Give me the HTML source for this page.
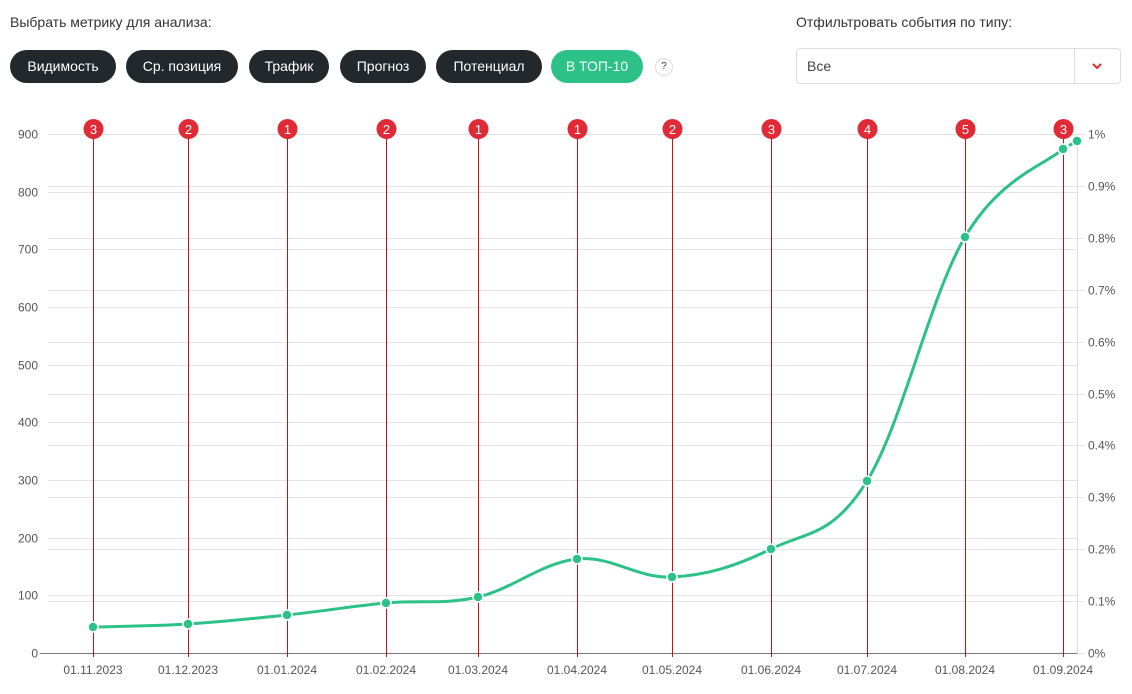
<!DOCTYPE html>
<html><head><meta charset="utf-8"><style>
body{margin:0;width:1132px;height:694px;background:#fff;font-family:"Liberation Sans",sans-serif;overflow:hidden;position:relative}
.lbl{position:absolute;font-size:14px;color:#333}
.btn{position:absolute;top:50px;height:33px;line-height:33px;border-radius:17px;background:#22282c;color:#fff;font-size:14px;text-align:center}
</style></head><body>
<div class="lbl" style="left:10px;top:14px">Выбрать метрику для анализа:</div>
<div class="lbl" style="left:796px;top:14px">Отфильтровать события по типу:</div>
<div class="btn" style="left:10px;width:106px">Видимость</div>
<div class="btn" style="left:126px;width:112px">Ср. позиция</div>
<div class="btn" style="left:249px;width:80px">Трафик</div>
<div class="btn" style="left:340px;width:86px">Прогноз</div>
<div class="btn" style="left:436px;width:106px">Потенциал</div>
<div class="btn" style="left:551px;width:92px;background:#2cc287">В ТОП-10</div>
<div style="position:absolute;left:655px;top:58px;width:16px;height:16px;border:1px solid #ddd;border-radius:50%;font-size:10px;text-align:center;line-height:16px;color:#333">?</div>
<div style="position:absolute;left:796px;top:48px;width:323px;height:34px;border:1px solid #ddd;border-radius:4px">
<div style="position:absolute;left:10px;top:9px;font-size:14px;color:#444">Все</div>
<div style="position:absolute;left:277px;top:0;width:1px;height:34px;background:#ddd"></div>
<svg style="position:absolute;left:295px;top:13px" width="10" height="8"><path d="M1 2 L5 6 L9 2" stroke="#e02a36" stroke-width="2" fill="none"/></svg>
</div>
<svg id="c" style="position:absolute;left:0;top:0" width="1132" height="694" font-family="Liberation Sans, sans-serif" font-size="12" fill="#555"></svg>
<script>
var s=document.getElementById('c'),h='';
var L=48,R=1077,Y0=653,Y9=134;
for(var k=0;k<=9;k++){var y=Math.round(Y0-(Y0-Y9)*k/9)+0.5;h+='<line x1="'+L+'" x2="'+R+'" y1="'+y+'" y2="'+y+'" stroke="#e3e3e3"/>';h+='<text x="38" y="'+(y+4)+'" text-anchor="end">'+(k*100)+'</text>';}
for(var k=0;k<=10;k++){var y=Math.round(Y0-(Y0-Y9)*k/10)+0.5;h+='<line x1="'+L+'" x2="'+(R+8)+'" y1="'+y+'" y2="'+y+'" stroke="#e3e3e3"/>';h+='<text x="1088" y="'+(y+4)+'">'+(k==10?'1':k==0?'0':(k/10).toFixed(1))+'%</text>';}
h+='<line x1="'+(R+0.5)+'" x2="'+(R+0.5)+'" y1="134" y2="653" stroke="#ddd"/>';
h+='<line x1="'+(L-8)+'" x2="'+R+'" y1="653.5" y2="653.5" stroke="#777"/>';
var xs=[93,188,287,386,478,577,672,771,867,965,1063],nums=[3,2,1,2,1,1,2,3,4,5,3];
var ds=['01.11.2023','01.12.2023','01.01.2024','01.02.2024','01.03.2024','01.04.2024','01.05.2024','01.06.2024','01.07.2024','01.08.2024','01.09.2024'];
var ys=[627,624,615,603,597,559,577,549,481,237,149];
for(var i=0;i<11;i++){h+='<line x1="'+(xs[i]+0.5)+'" x2="'+(xs[i]+0.5)+'" y1="130" y2="657" stroke="#c8101a"/>';
h+='<text x="'+xs[i]+'" y="674" text-anchor="middle">'+ds[i]+'</text>';}
var P=xs.map(function(x,i){return [x,ys[i]]});
var d='M'+P[0][0]+' '+P[0][1];
for(var i=0;i<P.length-1;i++){var p0=P[Math.max(i-1,0)],p1=P[i],p2=P[i+1],p3=P[Math.min(i+2,P.length-1)];
var t=0.18;d+=' C'+(p1[0]+(p2[0]-p0[0])*t)+' '+(p1[1]+(p2[1]-p0[1])*t)+' '+(p2[0]-(p3[0]-p1[0])*t)+' '+(p2[1]-(p3[1]-p1[1])*t)+' '+p2[0]+' '+p2[1];}
h+='<path d="'+d+'" stroke="#2cc287" stroke-width="3" fill="none"/>';
h+='<line x1="1063" y1="149" x2="1077" y2="141" stroke="#2cc287" stroke-width="3" stroke-dasharray="4 3"/>';
P.push([1077,141]);
P.forEach(function(p){h+='<circle cx="'+p[0]+'" cy="'+p[1]+'" r="5" fill="#2cc287" stroke="#fff" stroke-width="1.5"/>';});
for(var i=0;i<11;i++){h+='<circle cx="'+(xs[i]+0.5)+'" cy="129" r="10" fill="#e02a36"/><text x="'+(xs[i]+0.5)+'" y="134" text-anchor="middle" fill="#fff" font-size="13">'+nums[i]+'</text>';}
s.innerHTML=h;
</script>
</body></html>
